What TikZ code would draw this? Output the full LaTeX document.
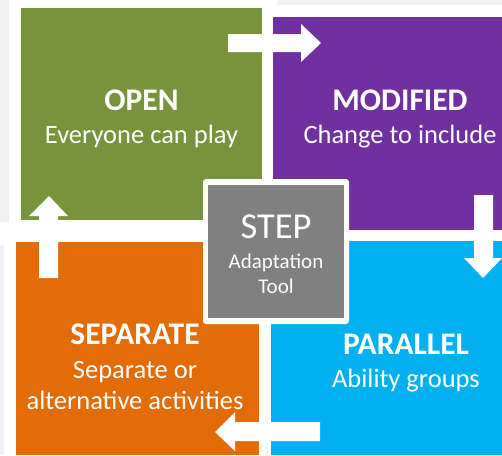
\documentclass[tikz,border=0pt]{standalone}
\usepackage{fontspec}
\setmainfont{Carlito}
\definecolor{bgray}{HTML}{F2F2F2}
\definecolor{cgreen}{HTML}{77933C}
\definecolor{cpurple}{HTML}{7030A0}
\definecolor{cblue}{HTML}{00B0F0}
\definecolor{corange}{HTML}{E36C09}
\definecolor{cstep}{HTML}{808080}
\tikzset{
  title/.style={text=white, anchor=base, font=\fontsize{31.5}{36}\selectfont\bfseries, inner sep=0pt},
  sub/.style={text=white, anchor=base, font=\fontsize{26.5}{30}\selectfont, inner sep=0pt},
  steptitle/.style={text=white, anchor=base, font=\fontsize{36.5}{42}\selectfont, inner sep=0pt},
  stepsub/.style={text=white, anchor=base, font=\fontsize{21}{24}\selectfont, inner sep=0pt},
  blockarrow/.style={fill=white},
}
\begin{document}
\begin{tikzpicture}[x=1pt,y=-1pt]
\useasboundingbox (0,0) rectangle (502,455);
% background
\fill[bgray] (0,0) rectangle (502,455);
\fill[white] (9,0) rectangle (277,232);
\fill[white] (261,5) rectangle (502,242);
\fill[white] (4,230) rectangle (271,455);
\fill[white] (259,229) rectangle (502,455);
\fill[white] (0,222) rectangle (9,245);
% boxes
\fill[cgreen] (21,8) rectangle (262,220);
\fill[cpurple] (273,17) rectangle (502,230);
\fill[corange] (16,242) rectangle (259,455);
\fill[cblue] (271,241) rectangle (502,455);
% arrows
\fill[blockarrow] (228,34) -- (301,34) -- (301,24) -- (321,43) -- (301,62) -- (301,52) -- (228,52) -- cycle;
\fill[blockarrow] (474,195) -- (493,195) -- (493,258) -- (502,258) -- (483,278) -- (464,258) -- (474,258) -- cycle;
\fill[blockarrow] (320,422) -- (235,422) -- (235,412) -- (215,432) -- (235,451) -- (235,441) -- (320,441) -- cycle;
\fill[blockarrow] (39,278) -- (39,216) -- (29,216) -- (49,196) -- (68,216) -- (58,216) -- (58,278) -- cycle;
% step box
\fill[white, rounded corners=3pt] (203,179) rectangle (349,324);
\fill[cstep] (208,185) rectangle (344,318);
% texts
\node[title] (open) at (141.5,110) {OPEN};
\node[sub] (opensub) at (141.5,143) {Everyone can play};
\node[title] (mod) at (400,110) {MODIFIED};
\node[sub] (modsub) at (400,143) {Change to include};
\node[title] (sep) at (135,344) {SEPARATE};
\node[sub] (sepsub1) at (135,378) {Separate or};
\node[sub] (sepsub2) at (135,409) {alternative activities};
\node[title] (par) at (406,354) {PARALLEL};
\node[sub] (parsub) at (406,387) {Ability groups};
\node[steptitle] (step) at (276,238) {STEP};
\node[stepsub] (stepsub1) at (276,268) {Adaptation};
\node[stepsub] (stepsub2) at (276,293) {Tool};
\end{tikzpicture}
\end{document}
